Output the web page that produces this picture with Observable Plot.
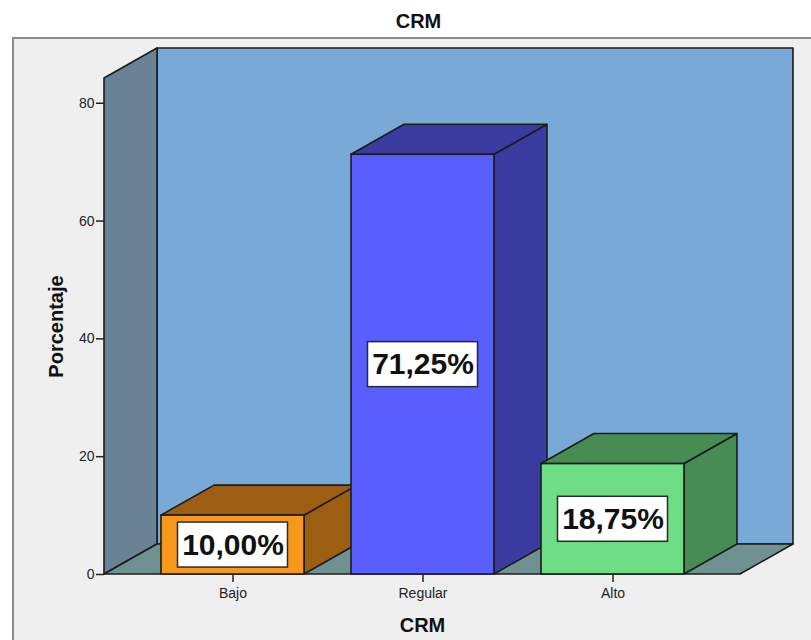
<!DOCTYPE html>
<html>
<head>
<meta charset="utf-8">
<script src="https://cdn.jsdelivr.net/npm/d3@7"></script>
<script src="https://cdn.jsdelivr.net/npm/@observablehq/plot@0.6"></script>
<style>
  html, body { margin: 0; padding: 0; background: #fff; overflow: hidden; }
  #frame {
    position: absolute; left: 12px; top: 37px; width: 840px; height: 660px;
    border: 2px solid #8c8c8c; background: #efefef; box-sizing: border-box;
  }
  #chart { position: absolute; left: 0; top: 0; }
</style>
</head>
<body>
<div id="frame"></div>
<div id="chart"></div>
<script>
// CRM levels and their share of respondents (%)
const categories = ["Bajo", "Regular", "Alto"];
const percents = [10.00, 71.25, 18.75];
const frontColors = ["#f7981d", "#5b5eff", "#6fdd85"];
const shadeColors = ["#9b5e13", "#3a3b9e", "#468c53"];
const yTicks = [0, 20, 40, 60, 80];
const yMax = 84.2;

// depth of the 3D extrusion, in pixels
const DX = 53, DY = 30;
const EDGE = "#1c1c1c";

const rows = categories.map((c, i) => ({
  cat: c,
  value: percents[i],
  front: frontColors[i],
  shade: shadeColors[i],
  label: percents[i].toFixed(2).replace(".", ",") + "%"
}));

const pts = (p) => p.map(q => q.join(",")).join(" ");

// back wall, side wall and floor of the 3D box
function walls(index, scales) {
  const [x0, x1] = scales.x.range();
  const yb = scales.y(0), yt = scales.y(yMax);
  const g = d3.create("svg:g")
    .attr("stroke", EDGE).attr("stroke-width", 1.6).attr("stroke-linejoin", "round");
  g.append("polygon").attr("fill", "#79a9d6")
    .attr("points", pts([[x0 + DX, yt - DY], [x1 + DX, yt - DY], [x1 + DX, yb - DY], [x0 + DX, yb - DY]]));
  g.append("polygon").attr("fill", "#6b8196")
    .attr("points", pts([[x0, yb], [x0, yt], [x0 + DX, yt - DY], [x0 + DX, yb - DY]]));
  g.append("polygon").attr("fill", "#6f9191")
    .attr("points", pts([[x0, yb], [x1, yb], [x1 + DX, yb - DY], [x0 + DX, yb - DY]]));
  return g.node();
}

// right side and top face of each bar
function bodies(index, scales) {
  const g = d3.create("svg:g")
    .attr("stroke", EDGE).attr("stroke-width", 1.6).attr("stroke-linejoin", "round");
  const bw = scales.x.bandwidth();
  const yb = scales.y(0);
  rows.forEach(d => {
    const xl = scales.x(d.cat), xr = xl + bw, yt = scales.y(d.value);
    g.append("polygon").attr("fill", d.shade)
      .attr("points", pts([[xr, yb], [xr, yt], [xr + DX, yt - DY], [xr + DX, yb - DY]]));
    g.append("polygon").attr("fill", d.shade)
      .attr("points", pts([[xl, yt], [xr, yt], [xr + DX, yt - DY], [xl + DX, yt - DY]]));
  });
  return g.node();
}

const chart = Plot.plot({
  width: 811,
  height: 640,
  marginLeft: 104,
  marginRight: 71,
  marginTop: 78,
  marginBottom: 66,
  style: { fontFamily: "Liberation Sans, Arial, sans-serif", fontSize: "14px", background: "transparent", color: "#222", overflow: "visible" },
  x: { domain: categories, paddingInner: 0.25, paddingOuter: 0.29 },
  y: { domain: [0, yMax] },
  color: { type: "identity" },
  marks: [
    walls,
    bodies,
    Plot.barY(rows, { x: "cat", y: "value", fill: "front", stroke: EDGE, strokeWidth: 1.6 }),
    Plot.barY(rows, {
      x: "cat", y1: d => d.value / 2, y2: d => d.value / 2,
      insetLeft: 16.5, insetRight: 16.5, insetTop: -22.5, insetBottom: -22.5,
      fill: "white", stroke: "#2a2a2a", strokeWidth: 1.5
    }),
    Plot.text(rows, {
      x: "cat", y: d => d.value / 2, text: "label",
      fontSize: 30, fontWeight: "bold", fill: "#111"
    }),
    Plot.axisY({ ticks: yTicks, tickSize: 8, tickPadding: 2, fontSize: 14, label: null, strokeWidth: 1.5 }),
    Plot.axisX({ tickSize: 8, tickPadding: 6, fontSize: 14, label: null, strokeWidth: 1.5 }),
    Plot.text(["CRM"], { frameAnchor: "top", lineAnchor: "middle", dx: -4, dy: -57, text: d => d, fontSize: 20, fontWeight: "bold", fill: "#111" }),
    Plot.text(["CRM"], { frameAnchor: "bottom", lineAnchor: "middle", dy: 51, text: d => d, fontSize: 20, fontWeight: "bold", fill: "#111" }),
    Plot.text(["Porcentaje"], { frameAnchor: "left", textAnchor: "middle", lineAnchor: "middle", dx: -48, rotate: -90, text: d => d, fontSize: 20, fontWeight: "bold", fill: "#111" })
  ]
});

document.getElementById("chart").appendChild(chart);
</script>
</body>
</html>
